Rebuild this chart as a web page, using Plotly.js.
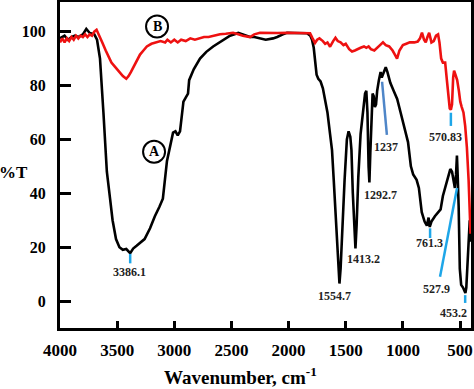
<!DOCTYPE html>
<html><head><meta charset="utf-8">
<script src="https://cdn.plot.ly/plotly-3.0.1.min.js"></script>
<style>body{margin:0;padding:0;background:#fff}#chart{width:474px;height:389px}</style>
</head><body><div id="chart"></div>
<script>
// Curve A (black)
const waveA = [4000,3960,3930,3900,3870,3840,3800,3770,3740,3700,3676,3650,3620,3590,3562,3540,3510,3480,3450,3420,3386,3360,3330,3300,3260,3212,3170,3130,3100,3064,3030,3011,2990,2970,2950,2920,2900,2880,2870,2830,2775,2720,2660,2590,2512,2440,2400,2337,2300,2250,2200,2136,2100,2050,2014,1950,1880,1839,1810,1795,1780,1769,1755,1740,1720,1700,1680,1660,1640,1620,1605,1590,1576,1565,1555,1545,1530,1510,1490,1475,1460,1450,1438,1425,1415,1405,1390,1370,1350,1331,1320,1310,1300,1293,1285,1275,1265,1255,1245,1235,1225,1210,1195,1185,1170,1150,1135,1110,1080,1050,1020,990,955,930,910,880,860,835,810,790,775,765,750,720,690,670,650,620,600,585,570,555,545,535,527,520,512,502,490,474,460,453,445,435,425,415,405];
const transA = [97.5,98.5,97,98,98.5,98,99,101,99.5,99,97,90,70,48,38,30,23,20,19,19.3,17.8,19.5,20.5,21.5,23,27,31.5,35,38,52,58,62.5,63,61.5,63,74,75.5,77,82,86,90,92.5,94.5,96.5,98.5,99.5,99,98,98,97.5,97,97.5,98,99,99.6,99.5,99.6,99.4,98.5,97,94,90,84,82.5,81.5,79,74,70,63,56,45,33,20,10,6.5,12,27,45,60,63,61,56,40,25,19.5,28,46,62,70,77,78,70,50,44,55,68,77,76,72,73,78,82,85,83,85,86.8,85,81,78,75,70,65,59,50,47,45,42,33,29.5,28,31,27.5,29.5,31.5,33,34,39,44,47,49,48,45,42,47,54,46,35,12,6,5,3.5,3,5,14,26,30,22];
// Curve B (red)
const waveB = [4000,3980,3960,3940,3920,3900,3880,3860,3840,3820,3800,3780,3760,3740,3720,3700,3680,3660,3630,3600,3580,3550,3520,3480,3450,3420,3400,3380,3350,3326,3300,3270,3240,3200,3160,3120,3080,3060,3030,3000,2970,2940,2900,2860,2820,2780,2740,2700,2650,2600,2550,2486,2440,2400,2337,2300,2250,2200,2100,2000,1926,1860,1812,1790,1769,1750,1730,1700,1680,1660,1637,1610,1590,1570,1545,1520,1500,1470,1445,1420,1400,1370,1340,1320,1300,1280,1250,1220,1200,1174,1150,1120,1090,1070,1051,1030,1000,970,940,900,870,850,833,815,800,785,770,750,730,710,692,680,665,650,630,615,600,590,580,570,560,552,540,525,510,498,485,470,455,440,425,413,408];
const transB = [96,97.5,96,97.5,96.5,98,97,98.5,97.5,98.5,98,99,98,99,98.5,100,100.7,99,96,93,91,88.5,87,85,83.5,82.5,83.5,85,87.5,89.5,91.5,93,94.5,95.5,96,96.5,96,97,96,97,96,97,96.5,97.5,97,97.5,98,98,98.5,99,99.2,99.6,99,98.5,98,99,99.6,99.5,99.5,99.6,99.6,99.6,99.4,97.5,95.8,97,97.5,96.5,95.5,96,94.4,96.5,97.7,96.5,96,95,95.5,93.5,92.6,93,93.5,94,94.5,94,94.5,93.5,93,94,95,96,95,94.5,93,91.5,90,93,95,95.5,96,96,96.3,97.5,99.6,97,96,98,99.6,96,96.5,98.5,99,96,90,88.5,88.5,82,74,71.5,71,73,83,85.5,84,82,78,74,72,70,65,57,45,30,25];
// Peak labels
const peakLabels = ["3386.1","1554.7","1413.2","1292.7","1237","570.83","761.3","527.9","453.2"];
const peakLabelX = [3396,1594,1346,1200,1147,631,768,704,559];
const peakLabelY = [10.8,1.9,15.6,39.4,57.2,61,21.4,4.5,-4.6];
// Marker lines [x0,y0,x1,y1]
const markX0 = [3386,1182,580,762,675,455];
const markY0 = [17.5,81.4,69.9,27,9,2.2];
const markX1 = [3386,1140,580,762,526,455];
const markY1 = [14,61.7,65,23.4,42,-0.7];
const markColor = ["#1ea6e8","#4f86c8","#1ea6e8","#1ea6e8","#1ea6e8","#1ea6e8"];
// Curve tags
const tagText = ["A","B"];
const tagX = [3177,3151];
const tagY = [55.4,101.9];

const serif = "Liberation Serif, Times New Roman, serif";
const traces = [
  {x: waveA, y: transA, mode: 'lines', line: {color: '#000', width: 2.6}, hoverinfo: 'skip'},
  {x: waveB, y: transB, mode: 'lines', line: {color: '#ee1111', width: 2.6}, hoverinfo: 'skip'}
];
const shapes = [];
for (let i = 0; i < markX0.length; i++) {
  shapes.push({type: 'line', xref: 'x', yref: 'y', x0: markX0[i], y0: markY0[i], x1: markX1[i], y1: markY1[i], line: {color: markColor[i], width: 2.5}});
}
for (let i = 0; i < tagText.length; i++) {
  shapes.push({type: 'circle', xref: 'x', yref: 'y', xsizemode: 'pixel', ysizemode: 'pixel', xanchor: tagX[i], yanchor: tagY[i], x0: -11, x1: 11, y0: -11, y1: 11, line: {color: '#000', width: 2}});
}
const annotations = [];
for (let i = 0; i < peakLabels.length; i++) {
  annotations.push({x: peakLabelX[i], y: peakLabelY[i], xref: 'x', yref: 'y', text: peakLabels[i], showarrow: false, font: {family: serif, size: 12, color: '#222', weight: 'bold'}});
}
for (let i = 0; i < tagText.length; i++) {
  annotations.push({x: tagX[i], y: tagY[i], xref: 'x', yref: 'y', text: tagText[i], showarrow: false, font: {family: serif, size: 14, color: '#000', weight: 'bold'}});
}
annotations.push({x: -0.072, xanchor: 'right', y: 47.6, xref: 'paper', yref: 'y', text: '%T', showarrow: false, font: {family: serif, size: 17, color: '#000', weight: 'bold'}});
annotations.push({x: 0.438, y: -0.147, xref: 'paper', yref: 'paper', yanchor: 'middle', text: 'Wavenumber, cm<sup>-1</sup>', showarrow: false, font: {family: serif, size: 19, color: '#000', weight: 'bold'}});

const layout = {
  width: 474, height: 389,
  margin: {l: 60, r: 3, t: 2, b: 61},
  paper_bgcolor: '#fff', plot_bgcolor: '#fff',
  showlegend: false,
  xaxis: {range: [4000, 404], tickvals: [4000,3500,3000,2500,2000,1500,1000,500], ticks: 'inside', ticklen: 7, tickwidth: 3, tickcolor: '#000',
          showline: true, linewidth: 3, linecolor: '#000', mirror: true, showgrid: false, zeroline: false,
          tickfont: {family: serif, size: 17, color: '#000', weight: 'bold'}, ticklabelstandoff: 5},
  yaxis: {range: [-10, 111], tickvals: [0,20,40,60,80,100], ticks: 'inside', ticklen: 11, tickwidth: 3, tickcolor: '#000',
          showline: true, linewidth: 3, linecolor: '#000', mirror: true, showgrid: false, zeroline: false,
          tickfont: {family: serif, size: 16, color: '#000', weight: 'bold'}, ticklabelstandoff: 8},
  shapes: shapes,
  annotations: annotations
};
Plotly.newPlot('chart', traces, layout, {staticPlot: true, displayModeBar: false});
</script></body></html>
